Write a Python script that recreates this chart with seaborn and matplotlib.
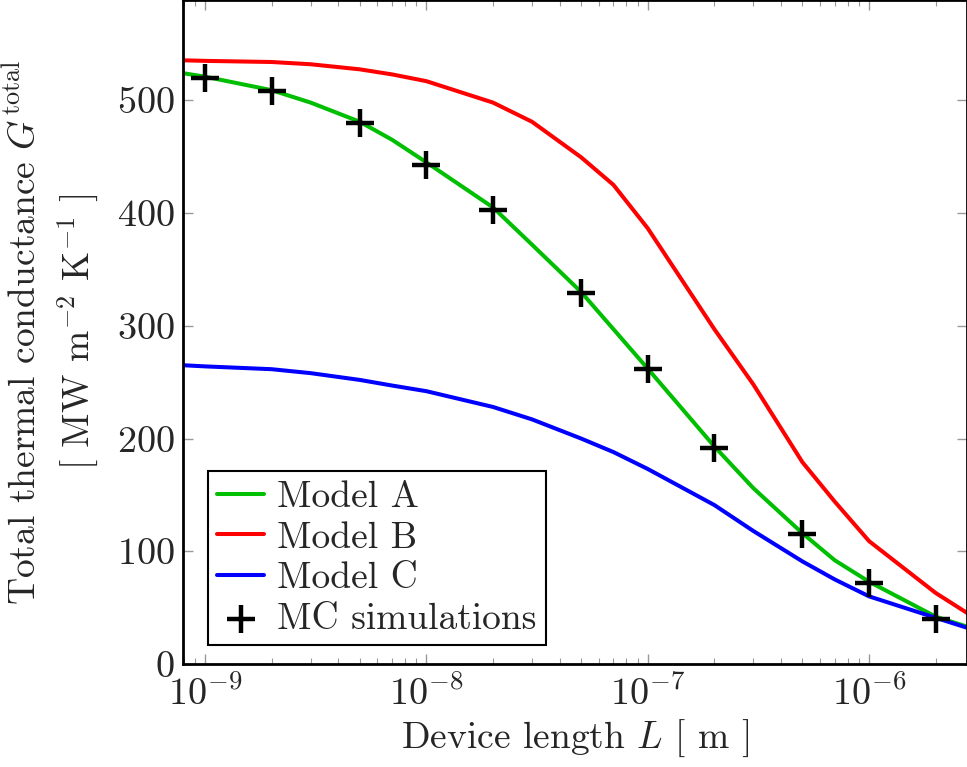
import numpy as np
import pandas as pd
import seaborn as sns
import matplotlib.pyplot as plt


# device length grid [m] used for the model curves
length = [8e-10, 1e-9, 2e-9, 3e-9, 5e-9, 7e-9, 1e-8, 2e-8, 3e-8, 5e-8, 7e-8,
          1e-7, 2e-7, 3e-7, 5e-7, 7e-7, 1e-6, 2e-6, 3e-6]

model_a = [524, 521, 509, 498, 481, 465, 445, 405, 372, 330, 297,
           262, 193, 156, 116, 92, 73, 42, 31]
model_b = [535.5, 535, 534, 532, 527.5, 523, 517, 498, 481, 449.5, 425,
           386.5, 297, 248, 179, 144, 109, 63, 41]
model_c = [265, 264, 261.5, 258, 252, 247, 242, 228, 217, 200, 188,
           173, 141, 118, 91, 75, 60, 41, 30]

# Monte Carlo points
mc_length = [1e-9, 2e-9, 5e-9, 1e-8, 2e-8, 5e-8, 1e-7, 2e-7, 5e-7, 1e-6, 2e-6]
mc_values = [520, 508, 480, 443, 403, 329, 262, 192, 115, 72, 40]

series_names = ['Model A', 'Model B', 'Model C']
series_colors = ['#00bf00', '#ff0000', '#0000ff']

sns.set_style('ticks')
plt.rcParams['font.family'] = 'serif'
plt.rcParams['font.serif'] = ['cmr10']
plt.rcParams['mathtext.fontset'] = 'cm'
plt.rcParams['axes.formatter.use_mathtext'] = True
plt.rcParams['font.size'] = 27

df = pd.DataFrame({
    'L': length * 3,
    'G': model_a + model_b + model_c,
    'model': [n for n in series_names for _ in length],
})
mc = pd.DataFrame({'L': mc_length, 'G': mc_values})

fig = plt.figure(figsize=(9.67, 7.67), dpi=100)
ax = fig.add_axes([183 / 967, 103 / 767, 784 / 967, 664 / 767])

sns.lineplot(data=df, x='L', y='G', hue='model', palette=series_colors,
             hue_order=series_names, linewidth=2.9, ax=ax, legend=False)
for name, col in zip(series_names, series_colors):
    ax.plot([], [], color=col, lw=2.9, label=name)
sns.scatterplot(data=mc, x='L', y='G', marker='+', color='black', s=380,
                linewidth=3.2, ax=ax, label='MC simulations', zorder=5)

ax.set_xscale('log')
ax.set_xlim(7.95e-10, 2.77e-6)
ax.set_ylim(0, 589)
ax.set_yticks([0, 100, 200, 300, 400, 500])

ax.tick_params(which='both', direction='in', top=True, right=True,
               color='#999999', labelsize=27.5)
ax.tick_params(which='major', length=7, width=1)
ax.tick_params(which='minor', length=4, width=0.8)
ax.tick_params(axis='x', pad=8)
ax.tick_params(axis='y', pad=6)
for s in ax.spines.values():
    s.set_linewidth(2)
    s.set_color('black')

ax.set_xlabel('Device length $L$ [ m ]', fontsize=27, labelpad=4)
ax.set_ylabel('Total thermal conductance $G^{\\mathrm{total}}$\n'
              '[ MW m$^{-2}$ K$^{-1}$ ]', fontsize=27, linespacing=1.35)
ax.yaxis.set_label_coords(-0.106, 0.5)

leg = ax.legend(loc='lower left', bbox_to_anchor=(0.032, 0.028),
                fontsize=27, frameon=True, fancybox=False, framealpha=1,
                edgecolor='black', handlelength=1.25, handletextpad=0.35,
                labelspacing=0.2, borderpad=0.25, borderaxespad=0)
leg.get_frame().set_linewidth(1.5)

fig.savefig('out.png', dpi=100)
plt.close(fig)
